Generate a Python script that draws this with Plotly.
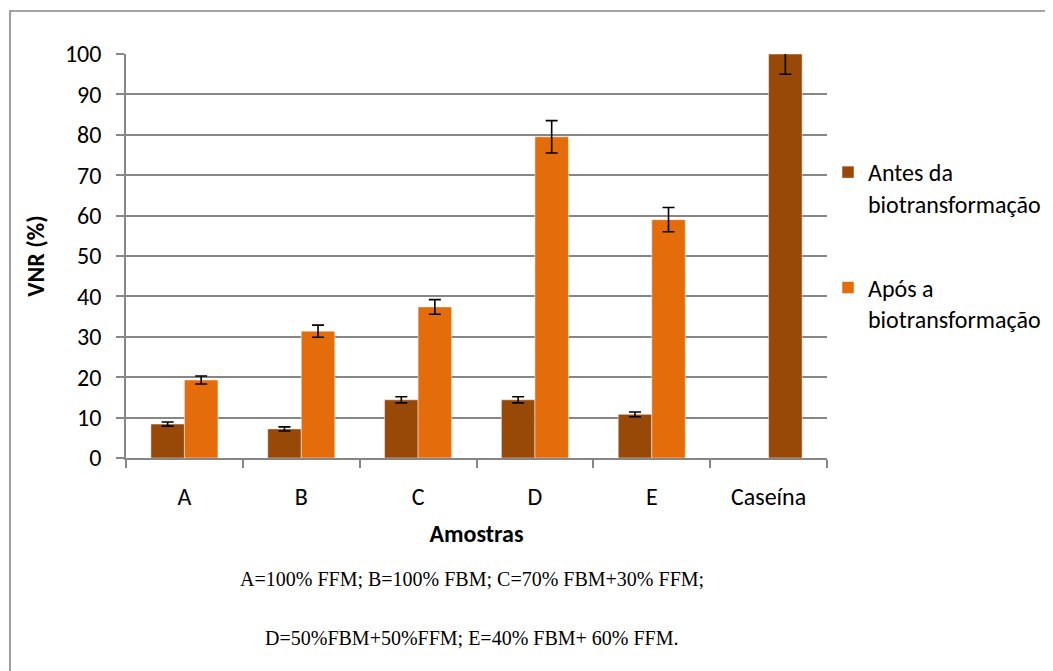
import plotly.graph_objects as go

categories = ["A", "B", "C", "D", "E", "Caseína"]
antes = [8.4, 7.2, 14.4, 14.4, 10.8, None]
antes_err = [0.5, 0.5, 0.75, 0.75, 0.6, 0]
apos = [19.3, 31.4, 37.4, 79.5, 59.0, 100]
apos_err = [1.0, 1.5, 1.8, 4.0, 3.0, 5.0]
footnote_1 = "A=100% FFM; B=100% FBM; C=70% FBM+30% FFM;"
footnote_2 = "D=50%FBM+50%FFM; E=40% FBM+ 60% FFM."

BROWN = "#984807"
ORANGE = "#E46C0A"
GRAY = "#868686"
FONT = "Carlito, Lato, sans-serif"
FS = 24

apos_colors = [ORANGE] * 5 + [BROWN]

fig = go.Figure()
fig.add_trace(go.Bar(
    x=categories, y=antes, name="Antes da<br>biotransformação",
    marker=dict(color=BROWN, line=dict(color="rgba(255,255,255,0.6)", width=0.8)),
    error_y=dict(type="data", array=antes_err, color="black", thickness=1.6, width=6),
    legendgroup="a",
))
fig.add_trace(go.Bar(
    x=categories, y=apos, name="Após a<br>biotransformação",
    marker=dict(color=apos_colors, line=dict(color="rgba(255,255,255,0.6)", width=0.8)),
    error_y=dict(type="data", array=apos_err, color="black", thickness=1.6, width=6),
    legendgroup="b",
))

OFF = 8  # page body margin
W, H = 1053, 671
L = 126 - OFF
T = 54 - OFF
R = W - (827 - OFF)
B = H - (458 - OFF)
pw, ph = W - L - R, H - T - B

def px_x(p):
    return (p - OFF - L) / pw

def px_y(p):
    return (H - B - (p - OFF)) / ph

fig.update_layout(
    width=W, height=H,
    margin=dict(l=L, r=R, t=T, b=B),
    paper_bgcolor="white", plot_bgcolor="white",
    font=dict(family=FONT, size=FS, color="black"),
    barmode="group", bargap=0.426, bargroupgap=0,
    showlegend=True,
    legend=dict(
        x=px_x(828), y=px_y(150), xanchor="left", yanchor="top",
        traceorder="grouped", tracegroupgap=50, valign="top",
        font=dict(family=FONT, size=FS, color="black"),
        itemwidth=30,
    ),
    xaxis=dict(
        type="category", range=[-0.5, 5.5],
        showline=True, linecolor=GRAY, linewidth=1.6,
        ticks="outside", ticklen=8, tickcolor=GRAY, tickwidth=1.6,
        tickson="boundaries", ticklabelstandoff=16,
        showgrid=False,
        title=dict(text="<b>Amostras</b>", font=dict(family=FONT, size=FS), standoff=16),
    ),
    yaxis=dict(
        range=[0, 100], dtick=10, tick0=0,
        showline=True, linecolor=GRAY, linewidth=1.6,
        ticks="outside", ticklen=8, tickcolor=GRAY, tickwidth=1.6,
        showgrid=True, gridcolor=GRAY, gridwidth=1.6,
        zeroline=False, ticklabelstandoff=10,
        title=dict(text="<b>VNR (%)</b>", font=dict(family=FONT, size=FS), standoff=14),
    ),
    shapes=[dict(
        type="rect", xref="paper", yref="paper",
        x0=px_x(10), x1=px_x(1090), y0=px_y(710), y1=px_y(11),
        line=dict(color=GRAY, width=1.6), fillcolor="rgba(0,0,0,0)", layer="below",
    )],
    annotations=[
        dict(text=footnote_1, xref="paper", yref="paper", x=px_x(472), y=px_y(579),
             xanchor="center", yanchor="middle", showarrow=False,
             font=dict(family="Liberation Serif, Times New Roman, serif", size=20, color="black")),
        dict(text=footnote_2, xref="paper", yref="paper", x=px_x(472), y=px_y(638),
             xanchor="center", yanchor="middle", showarrow=False,
             font=dict(family="Liberation Serif, Times New Roman, serif", size=20, color="black")),
    ],
)

fig.write_html("out.html")
